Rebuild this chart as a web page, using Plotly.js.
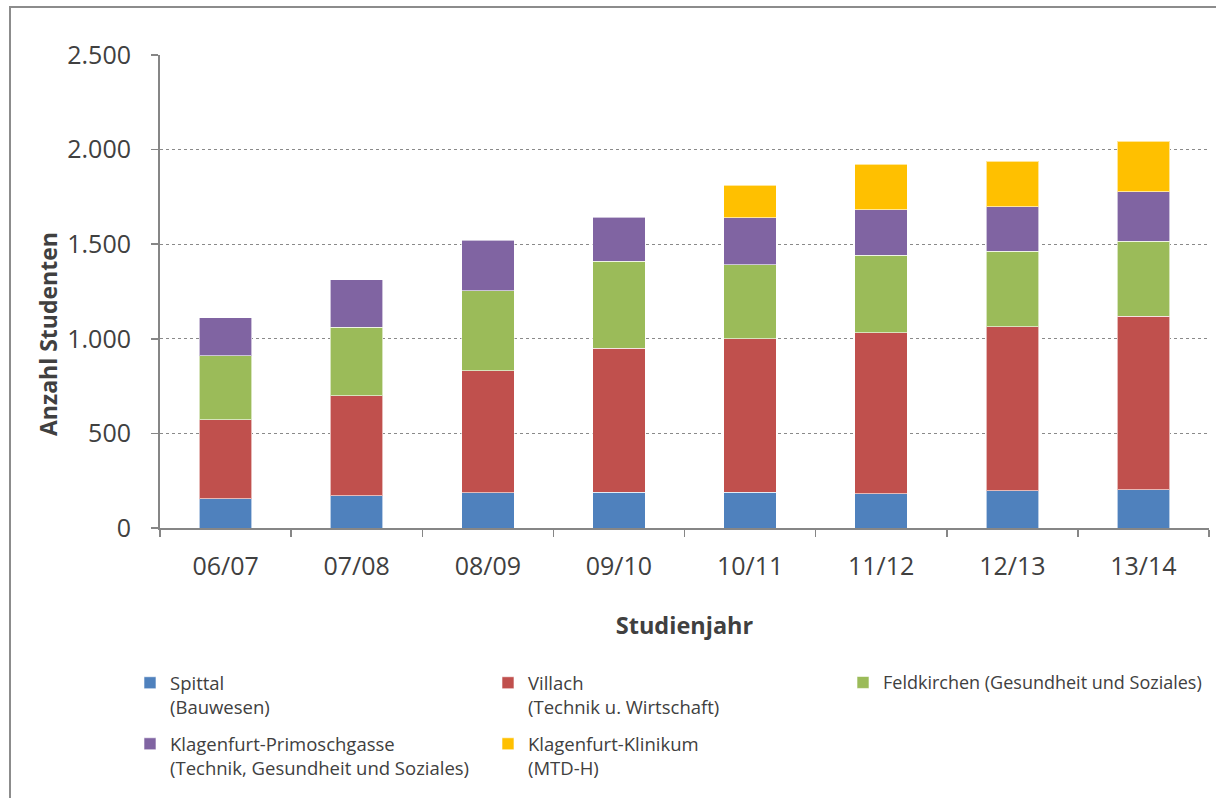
<!DOCTYPE html>
<html>
<head>
<meta charset="utf-8">
<script src="https://cdn.plot.ly/plotly-3.0.1.min.js"></script>
<style>
  html, body { margin: 0; padding: 0; background: #fff; overflow: hidden; }
  #chart { width: 1216px; height: 798px; }
  #frame { position: absolute; left: 9px; top: 6px; width: 1240px; height: 830px;
           border-left: 2px solid #8c8c8c; border-top: 2px solid #8c8c8c; pointer-events: none; }
</style>
</head>
<body>
<div id="chart"></div>
<div id="frame"></div>
<script>
const years = ["06/07", "07/08", "08/09", "09/10", "10/11", "11/12", "12/13", "13/14"];
const spittal = [155, 171, 187, 189, 189, 182, 196, 203];
const villach = [418, 529, 643, 762, 810, 849, 867, 916];
const feldkirchen = [338, 362, 425, 459, 393, 410, 401, 396];
const primoschgasse = [201, 249, 266, 232, 249, 240, 233, 261];
const klinikum = [null, null, null, null, 170, 241, 241, 268];

const seriesNames = [
  "Spittal<br>(Bauwesen)",
  "Villach<br>(Technik u. Wirtschaft)",
  "Feldkirchen (Gesundheit und Soziales)",
  "Klagenfurt-Primoschgasse<br>(Technik, Gesundheit und Soziales)",
  "Klagenfurt-Klinikum<br>(MTD-H)"
];
const seriesValues = [spittal, villach, feldkirchen, primoschgasse, klinikum];
const colors = ["#4F81BD", "#C0504D", "#9BBB59", "#8064A2", "#FFC000"];
const legendIds = ["legend", "legend", "legend3", "legend2", "legend2"];

const traces = seriesValues.map((vals, i) => ({
  type: "bar",
  x: years,
  y: vals,
  name: seriesNames[i],
  legend: legendIds[i],
  marker: { color: colors[i], line: { color: "rgba(255,255,255,0.6)", width: 1 } },
  hoverinfo: "x+y+name"
}));

const font = "'Open Sans', 'Noto Sans', sans-serif";

const legendBase = {
  orientation: "h",
  xanchor: "left",
  yanchor: "top",
  entrywidth: 313,
  entrywidthmode: "pixels",
  valign: "top",
  traceorder: "normal",
  font: { size: 18.5, color: "#404040", family: font },
  itemwidth: 30,
  bgcolor: "rgba(0,0,0,0)"
};

const layout = {
  width: 1216,
  height: 798,
  barmode: "stack",
  bargap: 0.6,
  separators: ",.",
  paper_bgcolor: "#ffffff",
  plot_bgcolor: "#ffffff",
  margin: { l: 160, r: 7, t: 55, b: 270, pad: 0 },
  font: { family: font, color: "#404040", size: 18 },
  xaxis: {
    type: "category",
    showline: true,
    linecolor: "#868686",
    linewidth: 2,
    ticks: "outside",
    tickson: "boundaries",
    ticklen: 7,
    tickwidth: 1.5,
    tickcolor: "#868686",
    ticklabelstandoff: 15,
    tickfont: { size: 25, color: "#404040", family: font },
    showgrid: false,
    title: { text: "<b>Studienjahr</b>", font: { size: 23.5, color: "#404040", family: font }, standoff: 37 }
  },
  yaxis: {
    range: [0, 2500],
    tickvals: [0, 500, 1000, 1500, 2000, 2500],
    tickformat: ",d",
    showline: true,
    linecolor: "#868686",
    linewidth: 2,
    ticks: "outside",
    ticklen: 7,
    tickwidth: 1.5,
    tickcolor: "#868686",
    ticklabelstandoff: 15,
    tickfont: { size: 25, color: "#404040", family: font },
    showgrid: true,
    gridcolor: "#8a8a8a",
    griddash: "dot",
    gridwidth: 1,
    zeroline: false
  },
  annotations: [{
    text: "<b>Anzahl Studenten</b>",
    textangle: -90,
    xref: "paper", yref: "paper",
    x: (48 - 160) / 1049,
    y: (528 - 334) / 473,
    xanchor: "center", yanchor: "middle",
    showarrow: false,
    font: { size: 23, color: "#404040", family: font }
  }],
  showlegend: true,
  legend: Object.assign({}, legendBase, { x: -0.0286, y: -0.288 }),
  legend3: Object.assign({}, legendBase, {
    x: (843 - 160) / 1049, y: -0.288,
    entrywidth: 0,
    font: { size: 18, color: "#404040", family: font }
  }),
  legend2: Object.assign({}, legendBase, { x: -0.0286, y: -0.417 })
};

Plotly.newPlot("chart", traces, layout, { displayModeBar: false, staticPlot: true });
</script>
</body>
</html>
